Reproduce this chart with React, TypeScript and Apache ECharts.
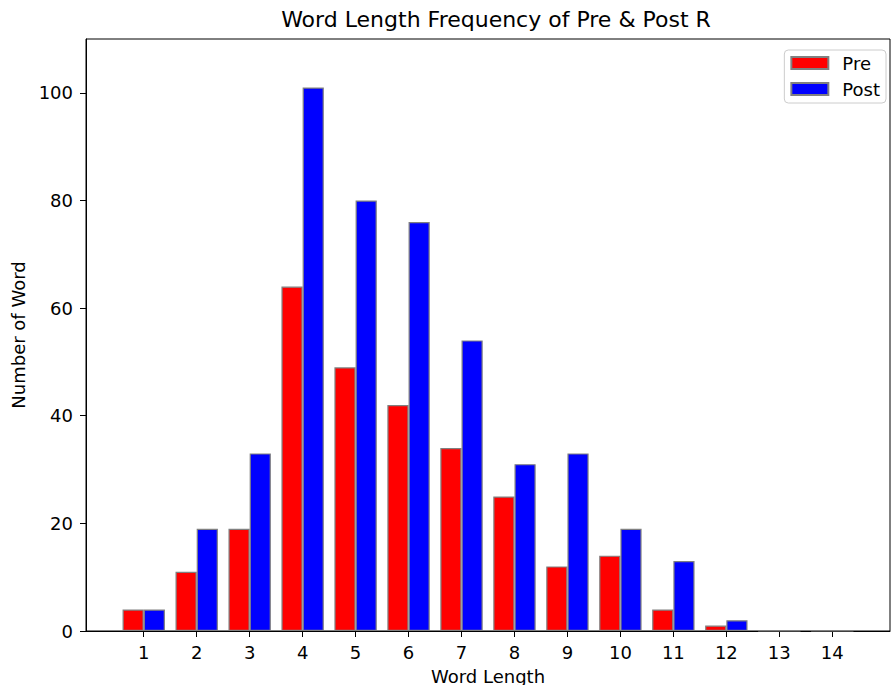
import React, { useEffect, useRef } from "react";
import * as echarts from "echarts";

const wordLengths = [1, 2, 3, 4, 5, 6, 7, 8, 9, 10, 11, 12, 13, 14];
const preCounts = [4, 11, 19, 64, 49, 42, 34, 25, 12, 14, 4, 1, 0, 0];
const postCounts = [4, 19, 33, 101, 80, 76, 54, 31, 33, 19, 13, 2, 0, 0];
const yTicks = [0, 20, 40, 60, 80, 100];

const FONT = "DejaVu Sans";
const FS = 18;

export default function App() {
  const ref = useRef<HTMLDivElement>(null);
  useEffect(() => {
    if (!ref.current) return;
    const chart = echarts.init(ref.current, undefined, { renderer: "svg" });
    const barW = 21.2;
    chart.setOption({
      animation: false,
      backgroundColor: "#ffffff",
      textStyle: { fontFamily: FONT },
      title: {
        text: "Word Length Frequency of Pre & Post R",
        left: 491,
        textAlign: "center",
        top: 3,
        textStyle: { fontFamily: FONT, fontSize: 22, fontWeight: "normal", color: "#000" },
      },
      legend: {
        orient: "vertical",
        right: 5,
        top: 50,
        itemWidth: 37,
        itemHeight: 12,
        itemGap: 8,
        padding: [4, 6, 5, 6],
        backgroundColor: "rgba(255,255,255,0.8)",
        borderColor: "#cccccc",
        borderWidth: 1,
        borderRadius: 4,
        icon: "rect",
        textStyle: { fontFamily: FONT, fontSize: FS, color: "#000", padding: [0, 0, 0, 9] },
        data: ["Pre", "Post"],
      },
      grid: {
        left: 86,
        right: 1,
        top: 39,
        bottom: 54,
        outerBoundsMode: "none",
        containLabel: false,
        show: true,
        borderColor: "#000",
        borderWidth: 1,
        backgroundColor: "transparent",
      },
      xAxis: {
        type: "value",
        min: -0.09,
        max: 15.09,
        name: "Word Length",
        nameLocation: "middle",
        nameGap: 36,
        nameTextStyle: { fontFamily: FONT, fontSize: FS, color: "#000" },
        axisLine: { show: true, onZero: false, lineStyle: { color: "#000", width: 1 } },
        axisTick: { show: true, length: 6, lineStyle: { color: "#000" }, customValues: wordLengths },
        axisLabel: {
          show: true,
          margin: 12,
          fontFamily: FONT,
          fontSize: FS,
          color: "#000",
          customValues: wordLengths,
        },
        splitLine: { show: false },
      },
      yAxis: {
        type: "value",
        min: 0,
        max: 110,
        name: "Number of Word",
        nameLocation: "middle",
        nameGap: 55,
        nameRotate: 90,
        nameTextStyle: { fontFamily: FONT, fontSize: FS, color: "#000" },
        axisLine: { show: true, onZero: false, lineStyle: { color: "#000", width: 1 } },
        axisTick: { show: true, length: 6, lineStyle: { color: "#000" }, customValues: yTicks },
        axisLabel: {
          show: true,
          margin: 13,
          fontFamily: FONT,
          fontSize: FS,
          color: "#000",
          customValues: yTicks,
        },
        splitLine: { show: false },
      },
      series: [
        {
          name: "Pre",
          type: "bar",
          barWidth: barW,
          barGap: "-100%",
          data: wordLengths.map((x, i) => [x - 0.2, preCounts[i]]),
          itemStyle: { color: "#ff0000", borderColor: "#808080", borderWidth: 1.2 },
        },
        {
          name: "Post",
          type: "bar",
          barWidth: barW,
          barGap: "-100%",
          data: wordLengths.map((x, i) => [x + 0.2, postCounts[i]]),
          itemStyle: { color: "#0000ff", borderColor: "#808080", borderWidth: 1.2 },
        },
      ],
    });
    return () => chart.dispose();
  }, []);
  return (
    <div
      ref={ref}
      style={{ position: "fixed", left: 0, top: 0, width: 891, height: 685, background: "#fff" }}
    />
  );
}
